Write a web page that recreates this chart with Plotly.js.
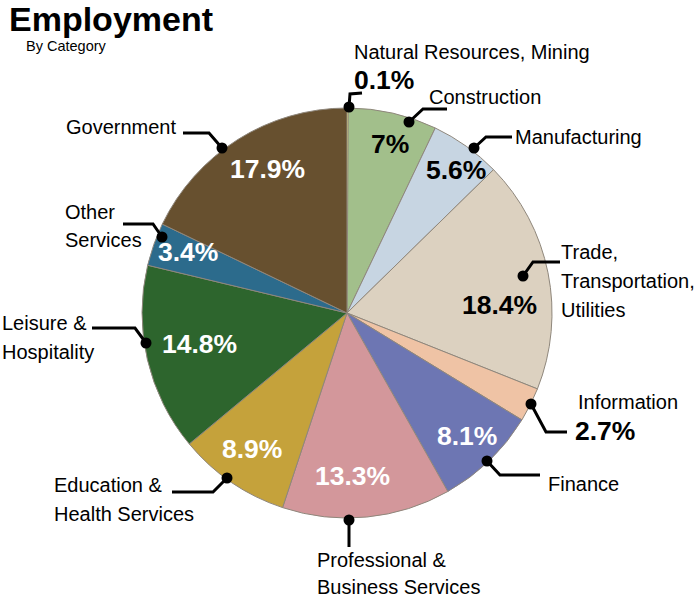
<!DOCTYPE html>
<html>
<head>
<meta charset="utf-8">
<script src="https://cdn.plot.ly/plotly-3.0.1.min.js"></script>
<style>html,body{margin:0;padding:0;background:#fff;}#chart{width:696px;height:600px;}</style>
</head>
<body>
<div id="chart"></div>
<script>
// ---- data ----
const categories = [
  "Natural Resources, Mining", "Construction", "Manufacturing",
  "Trade,<br>Transportation,<br>Utilities", "Information", "Finance",
  "Professional &<br>Business Services", "Education &<br>Health Services",
  "Leisure &<br>Hospitality", "Other<br>Services", "Government"
];
const values = [0.1, 7, 5.6, 18.4, 2.7, 8.1, 13.3, 8.9, 14.8, 3.4, 17.9];
const pctLabels = ["0.1%", "7%", "5.6%", "18.4%", "2.7%", "8.1%", "13.3%", "8.9%", "14.8%", "3.4%", "17.9%"];

// ---- styles / layout positions (pixels) ----
const colors = ["#f3ea7a", "#a2bf8b", "#c7d5e2", "#dcd1c0", "#efc3a5", "#6d76b3",
                "#d3979b", "#c5a23b", "#2d652d", "#2c6b8c", "#67502f"];
const pctColors = ["#000", "#000", "#000", "#000", "#000", "#fff", "#fff", "#fff", "#fff", "#fff", "#fff"];
// percentage label centres (inside slices) or left anchors for outside ones
const pctPos = [[352,80,"left"],[390,144,"center"],[456,170,"center"],[500,305,"center"],[573,431,"left"],
                [467,436,"center"],[352,476,"center"],[252,449,"center"],[199,344,"center"],[188,252,"center"],[267,169,"center"]];
// category label: left x, first line centre y, line gap
const namePos = [[352,52,29],[427,97,29],[513,137,29],[559,252,29],[576,402,29],[546,484,29],
                 [315,560,27],[52,485,29],[0,323,29],[63,212,28],[64,127,29]];
// leader lines: dot, elbow, end
const leaders = [
  [[349,107],[350,94],[362,93]],
  [[409,122],[423,109],[447,109]],
  [[474,148],[486,137],[512,137]],
  [[523,276],[533,262],[560,262]],
  [[531,404],[546,432],[567,432]],
  [[487,461],[500,475],[540,475]],
  [[349,520],[349,534],[349,547]],
  [[227,478],[213,492],[172,492]],
  [[146,343],[135,328],[92,328]],
  [[162,237],[153,224],[123,224]],
  [[222,148],[209,133],[183,133]]
];

const W = 696, H = 600;
const X = x => x / W, Y = y => 1 - y / H;
const cx = 347, cy = 313, R = 205;
const FONT = "Liberation Sans, Arial, Helvetica, sans-serif";

const lineColors = colors.map((c, i) => i === 0 ? "#f3ea7a" : "#8f877c");
const lineWidths = colors.map((c, i) => i === 0 ? 3 : 1);

const trace = {
  type: "pie",
  labels: categories,
  values: values,
  sort: false,
  direction: "clockwise",
  rotation: 0,
  marker: { colors: colors, line: { color: lineColors, width: lineWidths } },
  textinfo: "none",
  textposition: "none",
  hoverinfo: "label+percent",
  showlegend: false,
  domain: { x: [X(cx - R), X(cx + R)], y: [Y(cy + R), Y(cy - R)] }
};

const annotations = [];
const shapes = [];

annotations.push({ xref: "paper", yref: "paper", x: X(7), y: Y(19), xanchor: "left", yanchor: "middle",
  text: "<b>Employment</b>", showarrow: false, font: { family: FONT, size: 34, color: "#000" } });
annotations.push({ xref: "paper", yref: "paper", x: X(24), y: Y(46), xanchor: "left", yanchor: "middle",
  text: "By Category", showarrow: false, font: { family: FONT, size: 14.5, color: "#000" } });

categories.forEach((name, i) => {
  const lines = name.split("<br>");
  lines.forEach((ln, k) => {
    annotations.push({ xref: "paper", yref: "paper", x: X(namePos[i][0]), y: Y(namePos[i][1] + k * namePos[i][2]),
      xanchor: "left", yanchor: "middle", text: ln, showarrow: false,
      font: { family: FONT, size: 20, color: "#000" } });
  });
  const p = pctPos[i];
  annotations.push({ xref: "paper", yref: "paper", x: X(p[0]), y: Y(p[1]), xanchor: p[2], yanchor: "middle",
    text: "<b>" + pctLabels[i] + "</b>", showarrow: false,
    font: { family: FONT, size: 26.5, color: pctColors[i] } });

  const L = leaders[i];
  shapes.push({ type: "path", xref: "paper", yref: "paper", layer: "above",
    path: "M " + L.map(pt => X(pt[0]) + "," + Y(pt[1])).join(" L "),
    line: { color: "#000", width: 3 } });
  const r = 5.5;
  shapes.push({ type: "circle", xref: "paper", yref: "paper", layer: "above",
    x0: X(L[0][0] - r), x1: X(L[0][0] + r), y0: Y(L[0][1] + r), y1: Y(L[0][1] - r),
    fillcolor: "#000", line: { color: "#000", width: 0 } });
});

const layout = {
  width: W, height: H,
  margin: { l: 0, r: 0, t: 0, b: 0 },
  paper_bgcolor: "#fff",
  annotations: annotations,
  shapes: shapes
};

Plotly.newPlot("chart", [trace], layout, { displayModeBar: false, staticPlot: true });
</script>
</body>
</html>
